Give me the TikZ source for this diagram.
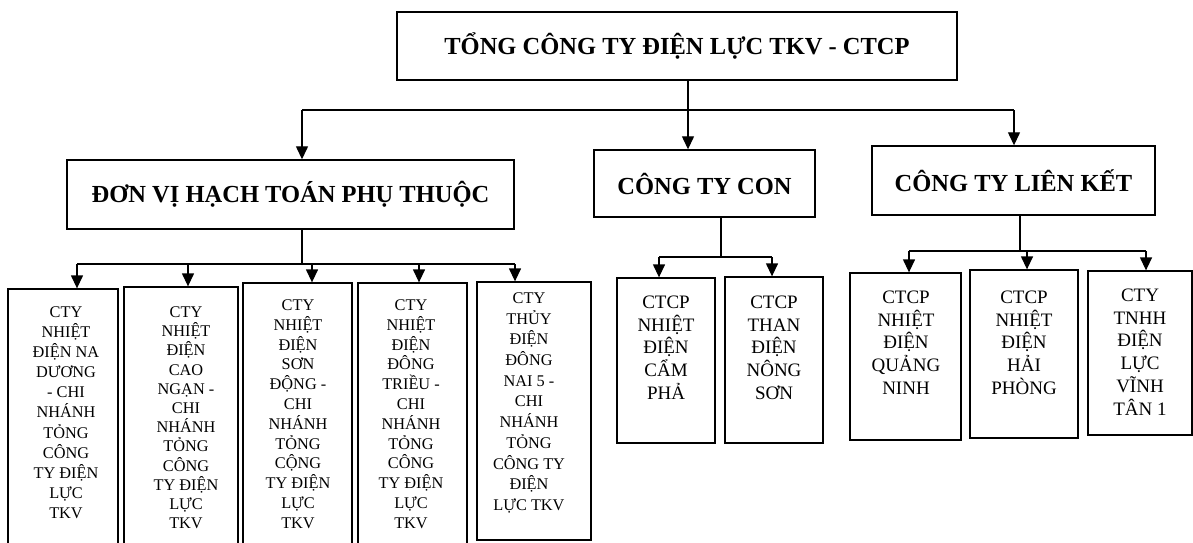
\documentclass[tikz,border=0pt]{standalone}
\usepackage{fontspec}
\setmainfont{Liberation Serif}
\usetikzlibrary{arrows.meta,fit}
\begin{document}
\begin{tikzpicture}[x=1pt,y=-1pt,
  ln/.style={line width=1.3pt},
  arr/.style={line width=1.3pt,-{Triangle[length=13pt,width=12pt]}},
  hdr/.style={draw,line width=1.4pt,inner sep=0pt,font=\fontsize{24.5}{28}\bfseries},
  leafbox/.style={draw,line width=1.3pt,inner sep=0pt},
  smalltxt/.style={anchor=north,align=center,inner sep=0pt,font=\fontsize{16.3}{#1}\selectfont},
  smalltxt/.default=20.1,
  bigtxt/.style={anchor=north,align=center,inner sep=0pt,font=\fontsize{19}{22.8}\selectfont}]
\useasboundingbox (0,0) rectangle (1193,543);
\clip (0,0) rectangle (1193,543);
\fill[white] (0,0) rectangle (1193,543);

% headers
\node[hdr,minimum width=560pt,minimum height=68pt] (top) at (677,46) {TỔNG CÔNG TY ĐIỆN LỰC TKV - CTCP};
\node[hdr,minimum width=447pt,minimum height=69pt] (dv) at (290.5,194.5) {ĐƠN VỊ HẠCH TOÁN PHỤ THUỘC};
\node[hdr,minimum width=221pt,minimum height=67pt] (con) at (704.5,183.5) {CÔNG TY CON};
\node[hdr,minimum width=283pt,minimum height=69pt] (lk) at (1013.5,180.5) {CÔNG TY LIÊN KẾT};

% top connectors
\coordinate (j0) at (688,110);
\coordinate (jl) at (302,110);
\coordinate (jr) at (1014,110);
\draw[ln] (top.south -| j0) -- (j0);
\draw[ln] (jl) -- (jr);
\draw[arr] (jl) -- (dv.north -| jl);
\draw[arr] (j0) -- (con.north -| j0);
\draw[arr] (jr) -- (lk.north -| jr);

% leaf boxes
\node[leafbox,fit={(8,289)(118,560)}] (b1) {};
\node[leafbox,fit={(124,287)(238,560)}] (b2) {};
\node[leafbox,fit={(243,283)(352,560)}] (b3) {};
\node[leafbox,fit={(358,283)(467,560)}] (b4) {};
\node[leafbox,fit={(477,282)(591,540)}] (b5) {};
\node[leafbox,fit={(617,278)(715,443)}] (c1) {};
\node[leafbox,fit={(725,277)(823,443)}] (c2) {};
\node[leafbox,fit={(850,273)(961,440)}] (d1) {};
\node[leafbox,fit={(970,270)(1078,438)}] (d2) {};
\node[leafbox,fit={(1088,271)(1192,435)}] (d3) {};

% leaf texts
\node[smalltxt=20.1] (t1) at (66,306.5) {CTY\\NHIỆT\\ĐIỆN NA\\DƯƠNG\\- CHI\\NHÁNH\\TỎNG\\CÔNG\\TY ĐIỆN\\LỰC\\TKV};
\node[smalltxt=19.2] (t2) at (186,306.5) {CTY\\NHIỆT\\ĐIỆN\\CAO\\NGẠN -\\CHI\\NHÁNH\\TỎNG\\CÔNG\\TY ĐIỆN\\LỰC\\TKV};
\node[smalltxt=19.8] (t3) at (298,299.5) {CTY\\NHIỆT\\ĐIỆN\\SƠN\\ĐỘNG -\\CHI\\NHÁNH\\TỎNG\\CỘNG\\TY ĐIỆN\\LỰC\\TKV};
\node[smalltxt=19.8] (t4) at (411,299.5) {CTY\\NHIỆT\\ĐIỆN\\ĐÔNG\\TRIỀU -\\CHI\\NHÁNH\\TỎNG\\CÔNG\\TY ĐIỆN\\LỰC\\TKV};
\node[smalltxt=20.7] (t5) at (529,292.5) {CTY\\THỦY\\ĐIỆN\\ĐÔNG\\NAI 5 -\\CHI\\NHÁNH\\TỎNG\\CÔNG TY\\ĐIỆN\\LỰC TKV};
\node[bigtxt] (u1) at (666,295.5) {CTCP\\NHIỆT\\ĐIỆN\\CẨM\\PHẢ};
\node[bigtxt] (u2) at (774,295.5) {CTCP\\THAN\\ĐIỆN\\NÔNG\\SƠN};
\node[bigtxt] (v1) at (906,290.5) {CTCP\\NHIỆT\\ĐIỆN\\QUẢNG\\NINH};
\node[bigtxt] (v2) at (1024,290.5) {CTCP\\NHIỆT\\ĐIỆN\\HẢI\\PHÒNG};
\node[bigtxt] (v3) at (1140,288.5) {CTY\\TNHH\\ĐIỆN\\LỰC\\VĨNH\\TÂN 1};

% DVHT connectors
\coordinate (dj) at (302,264);
\coordinate (h1) at (77,264);
\coordinate (h2) at (188,264);
\coordinate (h3) at (312,264);
\coordinate (h4) at (419,264);
\coordinate (h5) at (515,264);
\draw[ln] (dv.south -| dj) -- (dj);
\draw[ln] (h1) -- (h5);
\draw[arr] (h1) -- (b1.north -| h1);
\draw[arr] (h2) -- (b2.north -| h2);
\draw[arr] (h3) -- (b3.north -| h3);
\draw[arr] (h4) -- (b4.north -| h4);
\draw[arr] (h5) -- (b5.north -| h5);

% CON connectors
\coordinate (cj) at (721,257);
\coordinate (k1) at (659,257);
\coordinate (k2) at (772,257);
\draw[ln] (con.south -| cj) -- (cj);
\draw[ln] (k1) -- (k2);
\draw[arr] (k1) -- (c1.north -| k1);
\draw[arr] (k2) -- (c2.north -| k2);

% LK connectors
\coordinate (lj) at (1020,251);
\coordinate (m1) at (909,251);
\coordinate (m2) at (1027,251);
\coordinate (m3) at (1146,251);
\draw[ln] (lk.south -| lj) -- (lj);
\draw[ln] (m1) -- (m3);
\draw[arr] (m1) -- (d1.north -| m1);
\draw[arr] (m2) -- (d2.north -| m2);
\draw[arr] (m3) -- (d3.north -| m3);
\end{tikzpicture}
\end{document}
